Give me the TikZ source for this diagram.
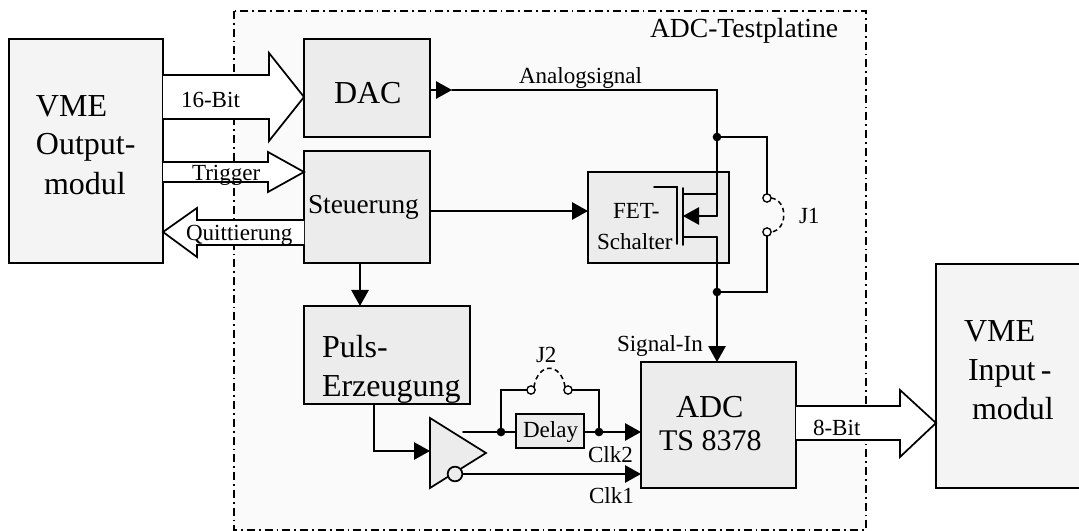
\documentclass[tikz,border=0pt]{standalone}
\usepackage{fontspec}
\setmainfont{Liberation Serif}
\usetikzlibrary{arrows.meta,calc}
\tikzset{
  x=0.75pt,y=-0.75pt,
  wire/.style={line width=1.3pt,line cap=round,line join=miter},
  tip/.style={wire,-{Triangle[length=12pt,width=13pt]}},
  frame/.style={draw=black,line width=1.3pt,fill=#1,inner sep=0pt,outer sep=0pt,anchor=north west},
  modul/.style={frame=black!4.5},
  block/.style={frame=black!7.5},
  bus/.style={draw=black,line width=1.3pt,fill=white,line join=miter},
  dashframe/.style={draw=black,fill=black!1.8,line width=1.3pt,dash pattern=on 6pt off 3pt on 1.3pt off 3pt},
  jumper/.style={line width=1.15pt,dash pattern=on 3.5pt off 2.5pt},
  dot/.style={circle,fill=black,inner sep=0pt,minimum size=6.5pt,outer sep=0pt},
  pin/.style={circle,draw=black,fill=white,line width=1pt,inner sep=0pt,minimum size=6.2pt,outer sep=0pt},
  txt/.style={anchor=base west,inner sep=0pt,outer sep=0pt,text=black},
  big/.style={txt,font=\fontsize{24}{24}\selectfont},
  mid/.style={txt,font=\fontsize{22.5}{24}\selectfont},
  steu/.style={txt,font=\fontsize{20.5}{24}\selectfont},
  small/.style={txt,font=\fontsize{17.3}{20}\selectfont},
}
\begin{document}
\begin{tikzpicture}
\clip (0,0) rectangle (1079,531);
\useasboundingbox (0,0) rectangle (1079,531);
\fill[white] (0,0) rectangle (1079,531);

% ADC test board outline
\draw[dashframe] (234,11) rectangle (866,530);

% blocks
\node[modul,minimum width=154*0.75pt,minimum height=224*0.75pt] (vmeout) at (9,39) {};
\node[modul,minimum width=160*0.75pt,minimum height=224*0.75pt] (vmein) at (936,264) {};
\node[block,minimum width=126*0.75pt,minimum height=98*0.75pt] (dac) at (304,39) {};
\node[block,minimum width=126*0.75pt,minimum height=112*0.75pt] (steuer) at (304,151) {};
\node[block,minimum width=166*0.75pt,minimum height=98*0.75pt] (puls) at (304,306) {};
\node[block,minimum width=141*0.75pt,minimum height=91*0.75pt] (fet) at (588,172) {};
\node[block,minimum width=155*0.75pt,minimum height=126*0.75pt] (adc) at (641,362) {};
\node[block,minimum width=68*0.75pt,minimum height=34*0.75pt] (delay) at (516,414) {};

% bus arrows
\draw[bus] (vmeout.east |- 0,75) -- (269,75) -- (269,53) -- (dac.west |- 0,97) -- (269,141) -- (269,119) -- (vmeout.east |- 0,119);
\draw[bus] (vmeout.east |- 0,162) -- (268,162) -- (268,152) -- (steuer.west |- 0,172) -- (268,192) -- (268,182) -- (vmeout.east |- 0,182);
\draw[bus] (steuer.west |- 0,220) -- (197,220) -- (197,208) -- (vmeout.east |- 0,232) -- (197,257) -- (197,245) -- (steuer.west |- 0,245);
\draw[bus] (adc.east |- 0,406) -- (900,406) -- (900,390) -- (vmein.west |- 0,423) -- (900,457) -- (900,440) -- (adc.east |- 0,440);

% junctions and jumper pins
\node[dot] (ja) at (717,137) {};
\node[dot] (jb) at (717,292) {};
\node[dot] (jc) at (501,432) {};
\node[dot] (jd) at (599,432) {};
\node[pin] (p1a) at (767,198) {};
\node[pin] (p1b) at (767,232) {};
\node[pin] (p2a) at (531,390) {};
\node[pin] (p2b) at (568,390) {};
\coordinate (dactip) at (452,90);
\coordinate (corner) at (717,90);
\coordinate (fetd) at (717,194);
\coordinate (feta) at (717,216);
\coordinate (fets) at (717,237);

% analog path
\draw[tip] (dac.east |- dactip) -- (dactip);
\draw[wire] (dactip) -- (corner) -- (fetd |- feta) -- (feta);
\draw[wire] (ja) -- (ja -| p1a) -- (p1a);
\draw[wire] (jb) -- (jb -| p1b) -- (p1b);
\draw[tip] (fets) -- (adc.north -| fets);
\draw[jumper] (p1a.east) .. controls (788,200) and (788,230) .. (p1b.east);

% FET symbol
\coordinate (gs) at (654,187);
\coordinate (gc) at (677,187);
\coordinate (ge) at (677,244);
\coordinate (cht) at (683,188);
\coordinate (chb) at (683,245);
\draw[wire] (gs) -- (gc) -- (ge);
\draw[wire] (cht) -- (chb);
\draw[wire] (cht |- fetd) -- (fetd);
\draw[wire] (chb |- fets) -- (fets);
\draw[tip] (feta) -- (cht |- feta);

% control paths
\draw[tip] (steuer.east |- 0,211) -- (fet.west |- 0,211);
\draw[tip] (steuer.south -| 360,0) -- (puls.north -| 360,0);

% buffer
\coordinate (bufa) at (430,418);
\coordinate (bufb) at (430,488);
\coordinate (bufc) at (486,453);
\draw[wire,fill=black!7.5,line join=miter] (bufa) -- (bufc) -- (bufb) -- cycle;
\node[circle,draw=black,fill=black!7.5,line width=1.3pt,inner sep=0pt,minimum size=11pt] (bubble) at (455,474) {};
\draw[tip] (puls.south -| 374,0) -- (374,451) -- (bufa |- 0,451);

% clock paths
\draw[wire] (463,432) -- (jc);
\draw[wire] (jc) -- (delay.west |- jc);
\draw[wire] (delay.east |- jd) -- (jd);
\draw[tip] (jd) -- (adc.west |- jd);
\draw[tip] (bubble.east) -- (adc.west |- bubble);
\draw[wire] (jc) -- (jc |- p2a) -- (p2a);
\draw[wire] (jd) -- (jd |- p2b) -- (p2b);
\draw[jumper] (p2a.north east) .. controls (538,362) and (561,362) .. (p2b.north west);

% texts
\node[big] (t1) at (36,117) {VME};
\node[big] (t2) at (36,155) {Output-};
\node[big] (t3) at (44,195) {modul};
\node[big] (t4) at (334,104) {DAC};
\node[steu] (t5) at (308,214) {Steuerung};
\node[big] (t6) at (322,357) {Puls-};
\node[big] (t7) at (322,396) {Erzeugung};
\node[big] (t8) at (676,417) {ADC};
\node[mid] (t9) at (659,450) {TS 8378};
\node[big] (t10) at (964,341) {VME};
\node[big] (t11) at (968,380) {Input\,-};
\node[big] (t12) at (972,419) {modul};
\node[small] (t13) at (181,108) {16-Bit};
\node[small] (t14) at (192,181) {Trigger};
\node[small] (t15) at (186,241) {Quittierung};
\node[small] (t16) at (519,84) {Analogsignal};
\node[small] (t17) at (613,219) {FET-};
\node[small] (t18) at (597,250) {Schalter};
\node[small] (t19) at (799,224) {J1};
\node[small] (t20) at (617,351) {Signal-In};
\node[small] (t21) at (536,362) {J2};
\node[small] (t22) at (523,437) {Delay};
\node[small] (t23) at (588,462) {Clk2};
\node[small] (t24) at (589,503) {Clk1};
\node[small] (t25) at (813,435) {8-Bit};
\node[txt,font=\fontsize{20.7}{24}\selectfont] (t26) at (650,38) {ADC-Testplatine};
\end{tikzpicture}
\end{document}
